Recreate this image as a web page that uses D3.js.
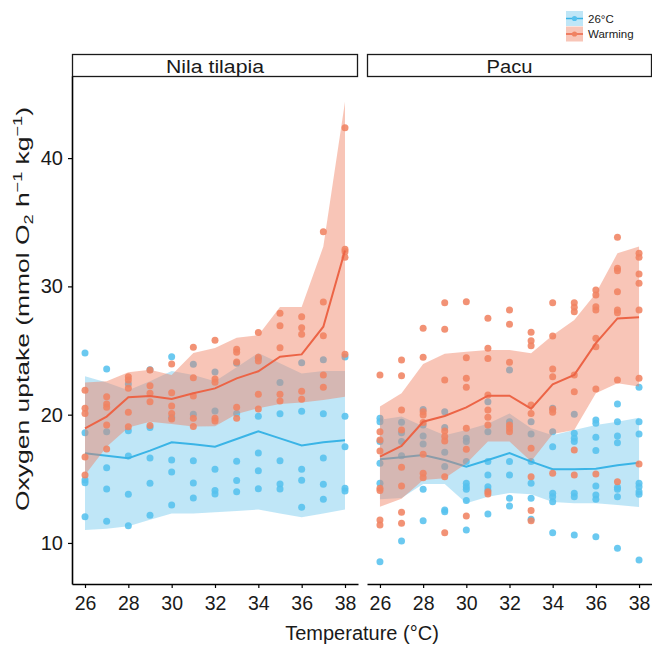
<!DOCTYPE html>
<html><head><meta charset="utf-8">
<script src="https://cdn.jsdelivr.net/npm/d3@7"></script>
<style>body{margin:0;background:#fff}svg{display:block;font-family:"Liberation Sans",Arial,sans-serif}</style>
</head><body><svg id="c" width="652" height="645"></svg>
<script>
const temps = [26,27,28,29,30,31,32,33,34,35,36,37,38];
const panels = ["Nila tilapia","Pacu"];
const groups = ["26°C","Warming"];
const xTicks = [26,28,30,32,34,36,38];
const yTicks = [10,20,30,40];

// Nila tilapia, 26°C
const tilControlMean = [17.0,16.8,16.6,17.2,17.85,17.7,17.5,18.1,18.7,18.15,17.6,17.85,18.0];
const tilControlLow  = [11.0,11.1,11.3,11.8,12.3,12.3,12.4,12.5,12.6,12.3,12.0,12.3,12.6];
const tilControlHigh = [23.0,22.5,21.9,22.6,23.4,23.1,22.6,23.7,24.8,24.0,23.2,23.4,23.4];
// Nila tilapia, Warming
const tilWarmMean = [18.94,19.85,21.36,21.46,21.22,21.67,22.05,22.83,23.38,24.52,24.7,26.86,32.8];
const tilWarmLow  = [15.3,17.5,19.0,19.45,19.28,19.07,19.1,20.05,20.5,20.83,20.94,21.15,21.4];
const tilWarmHigh = [22.5,22.6,23.3,23.5,23.1,24.8,25.2,26.0,26.2,28.4,28.4,33.1,44.4];
// Pacu, 26°C
const pacControlMean = [16.52,16.68,16.86,16.47,15.95,16.47,17.0,16.34,15.74,15.74,15.79,16.05,16.26];
const pacControlLow  = [13.4,13.5,14.6,14.6,13.1,13.6,13.9,13.8,13.2,13.1,13.1,12.95,12.8];
const pacControlHigh = [19.6,19.85,19.1,18.4,18.8,19.3,20.1,18.95,18.4,18.8,19.2,19.45,19.75];
// Pacu, Warming
const pacWarmMean = [16.73,17.56,19.45,19.9,20.57,21.48,21.48,20.47,22.37,23.1,25.57,27.5,27.6];
const pacWarmLow  = [12.83,13.45,14.9,15.05,16.2,17.9,17.9,16.34,18.5,18.8,21.67,22.45,22.2];
const pacWarmHigh = [20.63,21.67,23.95,24.75,24.91,25.04,25.04,24.78,26.2,27.38,29.46,32.58,33.1];

// individual measurements, one list per temperature
const tilControlPts = [
 [24.8,18.6,14.9,14.7,12.05],[23.56,18.67,15.87,14.2,11.7],[22.4,18.75,16.78,13.8,11.35],
 [23.5,19.0,16.62,14.65,12.16],[24.52,19.8,16.47,15.53,12.96],[23.93,20.03,16.4,14.68,13.5],
 [23.33,20.29,15.74,14.08,13.82],[24.0,20.1,16.37,14.86,14.0],[24.4,19.87,17.01,15.63,14.23],
 [22.5,20.08,16.4,14.6,14.2],[24.05,20.26,15.74,14.88,12.78],[24.29,20.08,16.62,14.57,13.4],
 [24.5,19.87,17.5,14.26,14.05]];
const tilWarmPts = [
 [21.9,20.5,20.1,16.7,15.3],[21.4,20.83,20.57,19.2,17.33],[22.96,22.7,22.05,20.18,19.06],
 [23.48,22.26,21.67,21.0,19.15],[23.95,21.71,20.68,20.1,19.66],[25.25,22.88,21.46,19.72,19.07],
 [25.8,22.78,22.52,19.72,19.5],[25.1,24.86,24.1,20.57,19.72],[26.4,24.47,24.19,21.59,20.44],
 [27.9,26.94,25.22,21.6,21.07],[27.64,26.78,26.26,21.82,21.2],[34.26,28.78,26.16,23.09,22.14],
 [42.37,32.9,32.7,32.27,24.7]];
const pacControlPts = [
 [19.72,19.45,17.9,16.21,14.65,8.54],[19.4,18.6,17.9,16.8,10.16],[20.4,19.2,18.34,17.72,14.18,11.74],
 [20.23,19.0,17.07,15.95,12.57,12.44],[18.16,17.9,16.34,14.65,14.39,14.18,13.3,11.0],
 [21.0,18.67,16.34,15.3,14.39,14.13,12.26],[23.48,19.45,16.34,15.3,13.48,12.88],
 [19.45,18.5,16.34,14.65,13.48,11.85],[20.5,18.67,17.5,13.87,13.61,13.22,10.8],
 [20.03,18.55,18.16,17.9,13.87,13.61,10.62],[19.59,19.33,18.24,17.2,14.44,13.74,13.4,10.49],
 [20.83,19.45,18.34,17.82,14.34,14.18,13.61,9.59],[22.14,19.45,18.5,14.65,14.39,14.0,13.8,8.67]];
const pacWarmPts = [
 [23.1,18.67,18.03,17.17,14.26,14.08,11.79,11.4],[24.26,23.04,20.37,18.81,15.9,14.44,12.39,11.53],
 [26.73,24.47,20.23,19.97,19.38,16.91,15.43,15.09],[28.73,26.65,22.7,18.73,18.29,17.95,15.17,10.8],
 [28.81,24.44,22.84,22.14,18.94,17.3,12.1],[27.51,25.17,24.37,21.54,20.37,19.8,19.2,14.0,13.82],
 [28.16,27.05,24.08,19.2,18.94,18.67],[26.42,25.77,25.38,20.76,20.1,17.38,15.17,12.52,11.74],
 [28.73,26.13,23.56,22.96,20.42,20.19,15.43],[28.73,28.37,28.03,23.1,21.79,17.25,15.3],
 [29.72,29.33,28.42,28.16,25.95,25.3,22.0,15.38],[33.83,31.41,31.22,29.59,28.16,27.95,22.7,14.78],
 [32.58,32.27,30.97,30.24,28.16,22.84,16.16]];

const colBlue = "#56c1ee", lineBlue = "#3ab4e6";
const colOrange = "#f08362", lineOrange = "#ec6446";

const series = [
 {panel:0, group:0, mean:tilControlMean, low:tilControlLow, high:tilControlHigh, pts:tilControlPts},
 {panel:0, group:1, mean:tilWarmMean, low:tilWarmLow, high:tilWarmHigh, pts:tilWarmPts},
 {panel:1, group:0, mean:pacControlMean, low:pacControlLow, high:pacControlHigh, pts:pacControlPts},
 {panel:1, group:1, mean:pacWarmMean, low:pacWarmLow, high:pacWarmHigh, pts:pacWarmPts}
];
const style = [
 {fill:"#4dbbea", fillOp:0.36, pt:colBlue, line:lineBlue},
 {fill:"#f07f5f", fillOp:0.45, pt:colOrange, line:lineOrange}
];

const svg = d3.select("#c");
const plotTop = 76, plotBottom = 584;
const panelX = [[72,358],[367,652]];
const y = d3.scaleLinear().domain([6.8,46.4]).range([plotBottom, plotTop]);
const font = "Liberation Sans, Arial, sans-serif";
const ink = "#1a1a1a";

// stretch a text horizontally (in its own frame) to a target length
function fitWidth(sel, target) {
  const w = sel.node().getComputedTextLength();
  return target / w;
}

panels.forEach((name, p) => {
  const [x0, x1] = panelX[p];
  const x = d3.scaleLinear().domain([25.4,38.6]).range([x0, x1]);
  const g = svg.append("g");
  const area = d3.area().x(d=>x(d.t)).y0(d=>y(d.lo)).y1(d=>y(d.hi));
  const line = d3.line().x(d=>x(d.t)).y(d=>y(d.m));
  series.filter(s=>s.panel===p).forEach(s => {
    const st = style[s.group];
    const rows = temps.map((t,i)=>({t, m:s.mean[i], lo:s.low[i], hi:s.high[i]}));
    g.append("path").datum(rows).attr("d", area).attr("fill", st.fill).attr("fill-opacity", st.fillOp);
    const pts = [];
    temps.forEach((t,i)=> s.pts[i].forEach(v=>pts.push({t,v})));
    g.append("g").selectAll("circle").data(pts).join("circle")
      .attr("cx", d=>x(d.t)).attr("cy", d=>y(d.v)).attr("r", 3.5)
      .attr("fill", st.pt).attr("fill-opacity", 0.88);
    g.append("path").datum(rows).attr("d", line).attr("fill","none")
      .attr("stroke", st.line).attr("stroke-width", 2);
  });
  // x axis
  const ax = g.append("g").attr("transform", `translate(0,${plotBottom})`)
    .call(d3.axisBottom(x).tickValues(xTicks).tickSize(4).tickPadding(5).tickSizeOuter(0));
  ax.select(".domain").attr("stroke","#000").attr("stroke-width",1.6);
  ax.selectAll(".tick line").attr("stroke","#000").attr("stroke-width",1.2);
  ax.selectAll("text").attr("font-size",19.5).attr("font-family",font).attr("fill",ink).attr("dy","0.88em");
  // strip
  g.append("rect").attr("x", x0+0.5).attr("y", 54.5).attr("width", x1-x0-1).attr("height", 22)
    .attr("fill","#fff").attr("stroke",ink).attr("stroke-width",1.3);
  const stt = g.append("text").attr("text-anchor","middle")
    .attr("font-size",18.5).attr("font-family",font).attr("fill",ink).text(name);
  const sx = fitWidth(stt, p===0 ? 98 : 46);
  stt.attr("transform", `translate(${(x0+x1)/2},72.5) scale(${sx},1)`);
  if (p===0) {
    const ay = g.append("g").attr("transform", `translate(${x0},0)`)
      .call(d3.axisLeft(y).tickValues(yTicks).tickSize(4).tickPadding(5).tickSizeOuter(0));
    ay.select(".domain").attr("stroke","#000").attr("stroke-width",1.6);
    ay.selectAll(".tick line").attr("stroke","#000").attr("stroke-width",1.2);
    ay.selectAll("text").attr("font-size",20).attr("font-family",font).attr("fill",ink);
  }
});

// axis titles
svg.append("text").attr("x",362).attr("y",640).attr("text-anchor","middle")
  .attr("font-size",20).attr("font-family",font).attr("fill",ink).text("Temperature (°C)");
const yt = svg.append("text").attr("text-anchor","middle").attr("font-size",19)
  .attr("font-family",font).attr("fill",ink);
yt.append("tspan").text("Oxygen uptake (mmol O");
yt.append("tspan").attr("font-size",13).attr("dy",4).text("2");
yt.append("tspan").attr("dy",-4).text(" h");
yt.append("tspan").attr("font-size",13).attr("dy",-7).text("−1");
yt.append("tspan").attr("dy",7).text(" kg");
yt.append("tspan").attr("font-size",13).attr("dy",-7).text("−1");
yt.append("tspan").attr("dy",7).text(")");
const ytw = yt.node().getBBox().width;
yt.attr("transform", `translate(29,309) rotate(-90) scale(${404/ytw},1)`);

// legend
const lg = svg.append("g");
groups.forEach((name,i)=>{
  const st = style[i];
  const ky = 11 + i*15.5;
  lg.append("rect").attr("x",566).attr("y",ky).attr("width",17).attr("height",15)
    .attr("fill",st.fill).attr("fill-opacity",st.fillOp);
  lg.append("line").attr("x1",566).attr("x2",583).attr("y1",ky+7.5).attr("y2",ky+7.5)
    .attr("stroke",st.line).attr("stroke-width",1.5);
  lg.append("circle").attr("cx",574.5).attr("cy",ky+7.5).attr("r",2.6).attr("fill",st.pt);
  lg.append("text").attr("x",588).attr("y",ky+11.5).attr("font-size",11.5)
    .attr("font-family",font).attr("fill",ink).text(name);
});
</script></body></html>
